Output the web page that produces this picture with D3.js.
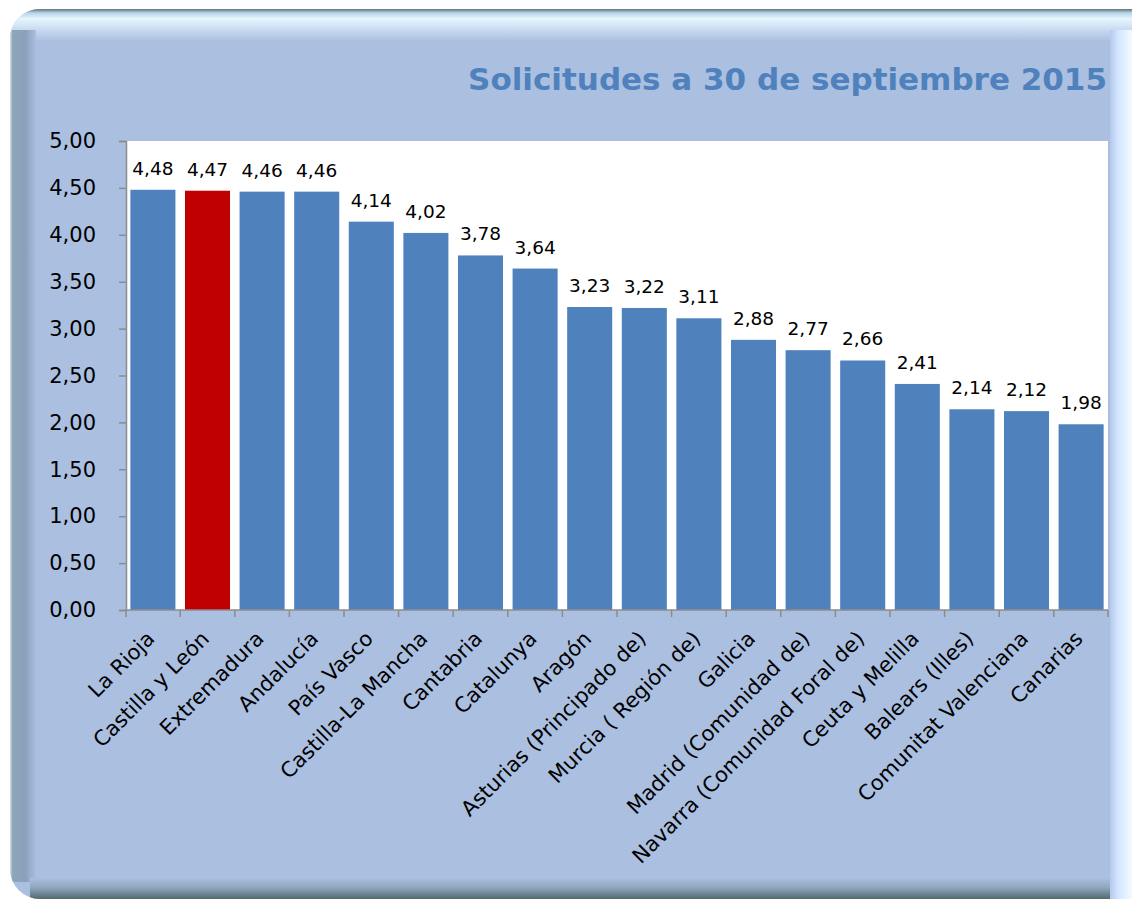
<!DOCTYPE html>
<html>
<head>
  <meta charset="utf-8">
  <title>Solicitudes a 30 de septiembre 2015</title>
  <script src="https://d3js.org/d3.v7.min.js"></script>
  <style>
    body { margin: 0; background: #fff; }
    text { font-family: "DejaVu Sans", Verdana, sans-serif; }
  </style>
</head>
<body>
  <div id="chart"></div>

  <script>
    var categories = ["La Rioja", "Castilla y León", "Extremadura", "Andalucía", "País Vasco",
      "Castilla-La Mancha", "Cantabria", "Catalunya", "Aragón", "Asturias (Principado de)",
      "Murcia ( Región de)", "Galicia", "Madrid (Comunidad de)", "Navarra (Comunidad Foral de)",
      "Ceuta y Melilla", "Balears (Illes)", "Comunitat Valenciana", "Canarias"];
    var values = [4.48, 4.47, 4.46, 4.46, 4.14, 4.02, 3.78, 3.64, 3.23, 3.22,
      3.11, 2.88, 2.77, 2.66, 2.41, 2.14, 2.12, 1.98];
    var highlight = ["Castilla y León"];
    var yTicks = [0, 0.5, 1, 1.5, 2, 2.5, 3, 3.5, 4, 4.5, 5];
    var title = "Solicitudes a 30 de septiembre 2015";

    var W = 1132, H = 900;
    var plot = { left: 126, right: 1108, top: 141, bottom: 610 };

    var svg = d3.select("#chart").append("svg")
      .attr("width", W)
      .attr("height", H);

    var defs = svg.append("defs");

    function grad(id, x1, y1, x2, y2, stops) {
      var g = defs.append("linearGradient").attr("id", id)
        .attr("x1", x1).attr("y1", y1).attr("x2", x2).attr("y2", y2);
      stops.forEach(s => g.append("stop").attr("offset", s[0]).attr("stop-color", s[1]));
    }
    grad("gTop", 0, 0, 0, 1, [[0, "#5d7478"], [0.12, "#b8d2e8"], [0.3, "#e6f6ff"], [1, "#abbfe0"]]);
    grad("gLeft", 0, 0, 1, 0, [[0, "#dbe6ee"], [0.1, "#8ea6b8"], [0.6, "#8aa1bd"], [1, "#abbfe0"]]);
    grad("gBottom", 0, 0, 0, 1, [[0, "#abbfe0"], [0.45, "#8ea6bb"], [1, "#4c6466"]]);
    grad("gRight", 0, 0, 1, 0, [[0, "#b3c8ec"], [0.35, "#d2e4ff"], [1, "#f2fbff"]]);

    defs.append("clipPath").attr("id", "frameClip")
      .append("rect")
      .attr("x", 10).attr("y", 9).attr("width", 1150).attr("height", 890).attr("rx", 30);

    // frame with bevel
    var frame = svg.append("g").attr("clip-path", "url(#frameClip)");
    frame.append("rect").attr("x", 10).attr("y", 9).attr("width", 1150).attr("height", 890)
      .attr("fill", "#abbfe0");
    frame.append("rect").attr("x", 10).attr("y", 9).attr("width", 1150).attr("height", 32)
      .attr("fill", "url(#gTop)");
    frame.append("rect").attr("x", 10).attr("y", 30).attr("width", 26).attr("height", 852)
      .attr("fill", "url(#gLeft)");
    frame.append("rect").attr("x", 30).attr("y", 878).attr("width", 1082).attr("height", 22)
      .attr("fill", "url(#gBottom)");
    frame.append("rect").attr("x", 1110).attr("y", 30).attr("width", 22).attr("height", 870)
      .attr("fill", "url(#gRight)");

    // title
    svg.append("text")
      .attr("x", 1107)
      .attr("y", 90)
      .attr("text-anchor", "end")
      .attr("font-size", 31)
      .attr("font-weight", "bold")
      .attr("fill", "#4f81bd")
      .text(title);

    // plot area
    svg.append("rect")
      .attr("x", plot.left).attr("y", plot.top)
      .attr("width", plot.right - plot.left).attr("height", plot.bottom - plot.top)
      .attr("fill", "#ffffff");

    var x = d3.scaleBand()
      .domain(categories)
      .range([plot.left, plot.right])
      .paddingInner(0.175)
      .paddingOuter(0.08);

    var y = d3.scaleLinear()
      .domain([0, 5])
      .range([plot.bottom, plot.top]);

    var fmt = d => d3.format(".2f")(d).replace(".", ",");

    svg.selectAll("rect.bar")
      .data(categories)
      .enter()
      .append("rect")
      .attr("class", "bar")
      .attr("x", d => x(d))
      .attr("y", (d, i) => y(values[i]))
      .attr("width", x.bandwidth())
      .attr("height", (d, i) => y(0) - y(values[i]))
      .attr("fill", d => highlight.includes(d) ? "#c00000" : "#4f81bd");

    svg.selectAll("text.val")
      .data(categories)
      .enter()
      .append("text")
      .attr("class", "val")
      .attr("x", d => x(d) + x.bandwidth() / 2)
      .attr("y", (d, i) => y(values[i]) - 15)
      .attr("text-anchor", "middle")
      .attr("font-size", 18.5)
      .attr("fill", "#000")
      .text((d, i) => fmt(values[i]));

    // y axis
    var yAxis = svg.append("g")
      .attr("transform", `translate(${plot.left}, 0)`)
      .call(d3.axisLeft(y).tickValues(yTicks).tickFormat(fmt).tickSize(7).tickSizeOuter(7));
    yAxis.selectAll("path, line").attr("stroke", "#8c8c8c").attr("stroke-width", 1.5);
    yAxis.selectAll("text")
      .attr("font-size", 21)
      .attr("font-family", "DejaVu Sans, sans-serif")
      .attr("fill", "#000")
      .attr("x", -30)
      .attr("text-anchor", "end");

    // x axis: ticks between categories
    var xg = svg.append("g");
    xg.append("line")
      .attr("x1", plot.left).attr("x2", plot.right)
      .attr("y1", plot.bottom).attr("y2", plot.bottom)
      .attr("stroke", "#8c8c8c").attr("stroke-width", 1.5);
    var bounds = categories.map(d => x(d) - x.step() * x.paddingInner() / 2);
    bounds.push(plot.right);
    bounds[0] = plot.left;
    xg.selectAll("line.tick")
      .data(bounds)
      .enter()
      .append("line")
      .attr("class", "tick")
      .attr("x1", d => d).attr("x2", d => d)
      .attr("y1", plot.bottom).attr("y2", plot.bottom + 7)
      .attr("stroke", "#8c8c8c").attr("stroke-width", 1.5);

    xg.selectAll("text.cat")
      .data(categories)
      .enter()
      .append("text")
      .attr("class", "cat")
      .attr("transform", d => `translate(${x(d) + x.bandwidth() / 2 + 3}, ${plot.bottom + 30}) rotate(-45)`)
      .attr("text-anchor", "end")
      .attr("font-size", 21)
      .attr("fill", "#000")
      .text(d => d);
  </script>
</body>
</html>
